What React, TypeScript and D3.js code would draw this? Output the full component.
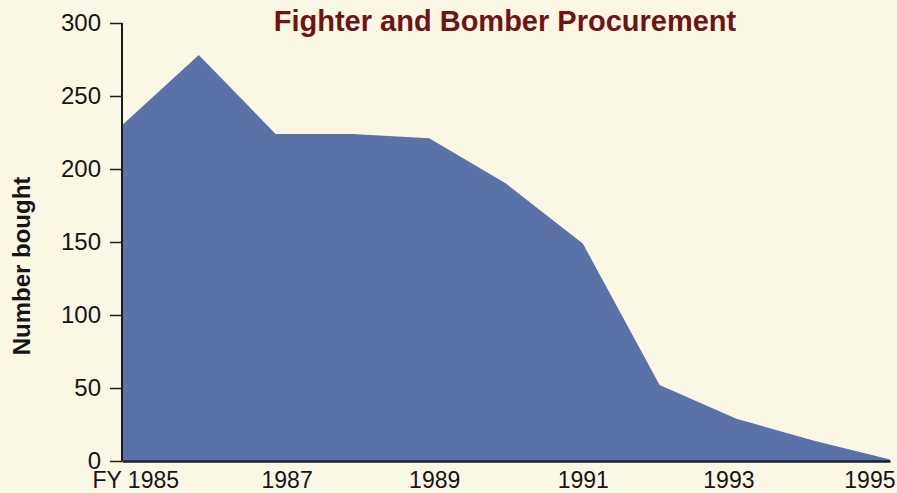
import React, { useEffect, useRef } from 'react';
import * as d3 from 'd3';

// Fighter and bomber procurement, number bought per fiscal year
const years = [1985, 1986, 1987, 1988, 1989, 1990, 1991, 1992, 1993, 1994, 1995];
const bought = [230, 278, 224, 224, 221, 190, 149, 52, 29, 14, 1];
const xTickYears = [1985, 1987, 1989, 1991, 1993, 1995];
const yTicks = [0, 50, 100, 150, 200, 250, 300];

const FONT = 'Liberation Sans, Arial, Helvetica, sans-serif';

const ProcurementChart: React.FC = () => {
    const chartRef = useRef<SVGSVGElement | null>(null);

    useEffect(() => {
        if (!chartRef.current) return;
        document.body.style.margin = '0';

        const width = 897;
        const height = 493;
        const margin = { top: 23, right: 7, bottom: 32, left: 122 };

        const svg = d3.select(chartRef.current)
            .attr('width', width)
            .attr('height', height)
            .attr('viewBox', `0 0 ${width} ${height}`);

        svg.selectAll('*').remove();

        svg.append('rect')
            .attr('width', width)
            .attr('height', height)
            .attr('fill', '#fbf7e5');

        const x = d3.scaleLinear()
            .domain([1985, 1995])
            .range([margin.left, width - margin.right]);

        const y = d3.scaleLinear()
            .domain([0, 300])
            .range([height - margin.bottom, margin.top]);

        const area = d3.area<number>()
            .x((_, i) => x(years[i]))
            .y0(y(0))
            .y1(d => y(d));

        svg.append('path')
            .datum(bought)
            .attr('d', area)
            .attr('fill', '#5b72a8');

        // Y axis
        svg.append('g')
            .attr('transform', `translate(${margin.left},0)`)
            .call(d3.axisLeft(y).tickValues(yTicks).tickSize(12).tickPadding(9))
            .call(g => g.select('.domain').attr('stroke', '#1b1b22').attr('stroke-width', 2).attr('d', `M0,${y(300)}V${y(0)}`))
            .call(g => g.selectAll('.tick line').attr('stroke', '#1b1b22').attr('stroke-width', 1.5))
            .call(g => g.selectAll('.tick text').attr('fill', '#151515').attr('font-size', '24px').attr('font-family', FONT).attr('dy', '0.32em'));

        // X axis, labels nudged as in the printed original
        svg.append('g')
            .attr('transform', `translate(0,${y(0)})`)
            .call(d3.axisBottom(x).tickValues(xTickYears).tickSize(0)
                .tickFormat(d => (d === 1985 ? 'FY 1985' : String(d))))
            .call(g => g.select('.domain').attr('stroke', '#1b2030').attr('stroke-width', 2.5))
            .call(g => g.selectAll('.tick text').attr('fill', '#151515').attr('font-size', '23px').attr('font-family', FONT).attr('y', 27).attr('dy', 0))
            .call(g => g.selectAll<SVGTextElement, number>('.tick text')
                .attr('text-anchor', d => (d === 1985 ? 'start' : d === 1995 ? 'end' : 'middle'))
                .attr('x', d => (d === 1985 ? -30 : d === 1995 ? 5 : d === 1993 ? -8 : d === 1987 ? 11 : d === 1989 ? 5 : 0)));

        // Title
        svg.append('text')
            .attr('x', 505)
            .attr('y', 31)
            .attr('text-anchor', 'middle')
            .attr('fill', '#6e1414')
            .attr('font-size', '29px')
            .attr('font-weight', 'bold')
            .attr('font-family', FONT)
            .text('Fighter and Bomber Procurement');

        // Y axis label
        svg.append('text')
            .attr('transform', 'rotate(-90)')
            .attr('x', -266)
            .attr('y', 30)
            .attr('text-anchor', 'middle')
            .attr('fill', '#151515')
            .attr('font-size', '24px')
            .attr('font-weight', 'bold')
            .attr('font-family', FONT)
            .text('Number bought');
    }, []);

    return <svg ref={chartRef} style={{ display: 'block' }}></svg>;
};

export default function App() {
    return <ProcurementChart />;
}
